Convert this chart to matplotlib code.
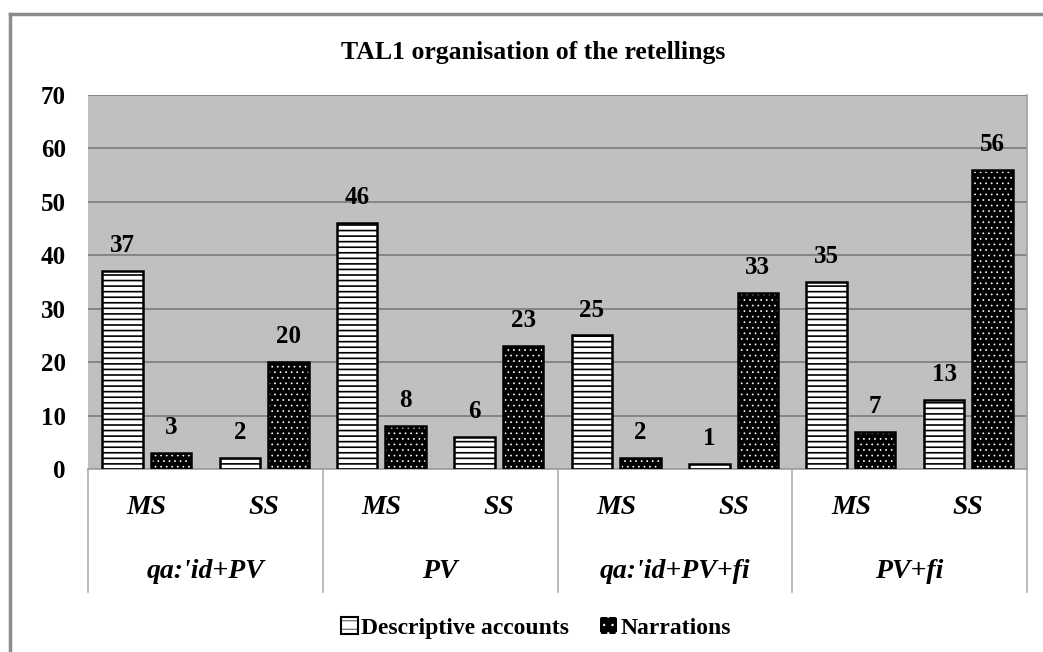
import matplotlib
matplotlib.use("Agg")
import matplotlib.pyplot as plt
from matplotlib.patches import Patch
from matplotlib.lines import Line2D
from matplotlib.legend_handler import HandlerTuple
import numpy as np

plt.rcParams['font.family'] = ['Liberation Serif', 'DejaVu Serif']

groups = ["qa:'id+PV", "PV", "qa:'id+PV+fi", "PV+fi"]
subcats = ["MS", "SS"]
series_names = ["Descriptive accounts", "Narrations"]
descriptive = [37, 2, 46, 6, 25, 1, 35, 13]
narrations = [3, 20, 8, 23, 2, 33, 7, 56]
yticks = [0, 10, 20, 30, 40, 50, 60, 70]

W, H = 1043, 652
fig = plt.figure(figsize=(W / 100, H / 100), dpi=100)
L, R, T, B = 88, 1027, 95, 469
ax = fig.add_axes([L / W, 1 - B / H, (R - L) / W, (B - T) / H])
ax.set_facecolor('#C0C0C0')

n = len(descriptive)
x = np.arange(n)
bw = 0.345
off = 0.207

# descriptive: white with black horizontal lines
plt.rcParams['hatch.linewidth'] = 1.2
ax.bar(x - off, descriptive, bw, color='white', edgecolor='black', hatch='---', linewidth=0, zorder=3)
ax.bar(x - off, descriptive, bw, facecolor='none', edgecolor='black', linewidth=1.8, zorder=4)
h1 = Patch(facecolor='white', edgecolor='black', hatch='--', linewidth=1.5)
# narrations: black with white dots
plt.rcParams['hatch.linewidth'] = 0.5
ax.bar(x + off, narrations, bw, color='black', linewidth=0, zorder=3)
ax.bar(x + off, narrations, bw, facecolor='none', edgecolor='white', hatch='...', linewidth=0, zorder=3.5)
ax.bar(x + off, narrations, bw, facecolor='none', edgecolor='black', linewidth=1.8, zorder=4)
h2a = Patch(facecolor='black', edgecolor='black', linewidth=0)
h2b = Patch(facecolor='none', edgecolor='white', hatch='..', linewidth=0)

for xi, v in zip(x - off, descriptive):
    ax.annotate(str(v), (xi, v), xytext=(0, 10), textcoords='offset points',
                ha='center', va='bottom', fontsize=18, fontweight='bold')
for xi, v in zip(x + off, narrations):
    ax.annotate(str(v), (xi, v), xytext=(0, 10), textcoords='offset points',
                ha='center', va='bottom', fontsize=18, fontweight='bold')

ax.set_xlim(-0.5, n - 0.5)
ax.set_ylim(0, 70)
ax.set_yticks(yticks)
ax.set_yticklabels([str(t) for t in yticks], fontsize=18, fontweight='bold')
ax.tick_params(axis='y', length=0, pad=16)
ax.set_xticks([])
ax.yaxis.grid(True, color='#808080', linewidth=1.3, zorder=1)
ax.set_axisbelow(True)
for s in ['left', 'top']:
    ax.spines[s].set_visible(False)
ax.spines['right'].set_color('#A0A0A0')
ax.spines['right'].set_linewidth(1.2)
ax.spines['bottom'].set_color('#A0A0A0')
ax.spines['bottom'].set_linewidth(1.2)

# category axis labels
trans = ax.get_xaxis_transform()
def yax(py):
    return -(py - B) / (B - T)
for i in range(n):
    ax.text(x[i], yax(508), subcats[i % 2], transform=trans, ha='center', va='center',
            fontsize=20, fontweight='bold', style='italic')
for g, name in enumerate(groups):
    ax.text(2 * g + 0.5, yax(572), name, transform=trans, ha='center', va='center',
            fontsize=20, fontweight='bold', style='italic')
for g in range(len(groups) + 1):
    ax.plot([2 * g - 0.5, 2 * g - 0.5], [0, yax(592)], transform=trans, color='#B0B0B0',
            linewidth=1.2, clip_on=False)

# title
fig.text(533.5 / W, 1 - 59 / H, "TAL1 organisation of the retellings",
         ha='center', va='baseline', fontsize=18.5, fontweight='bold')

# legend
leg = fig.legend([h1, (h2a, h2b)], series_names, loc='center', bbox_to_anchor=(536 / W, 1 - 628 / H),
                 ncol=2, frameon=False, handlelength=0.7, handleheight=0.7, handletextpad=0.15,
                 columnspacing=1.3, prop={'size': 17, 'weight': 'bold'},
                 handler_map={tuple: HandlerTuple(ndivide=1)})

# outer border
fig.add_artist(Line2D([10 / W, 1.0], [1 - 14 / H, 1 - 14 / H], transform=fig.transFigure,
                      color='#8C8C8C', linewidth=2.5))
fig.add_artist(Line2D([10 / W, 10 / W], [0, 1 - 14 / H], transform=fig.transFigure,
                      color='#8C8C8C', linewidth=2.5))

fig.savefig('out.png', dpi=100)
